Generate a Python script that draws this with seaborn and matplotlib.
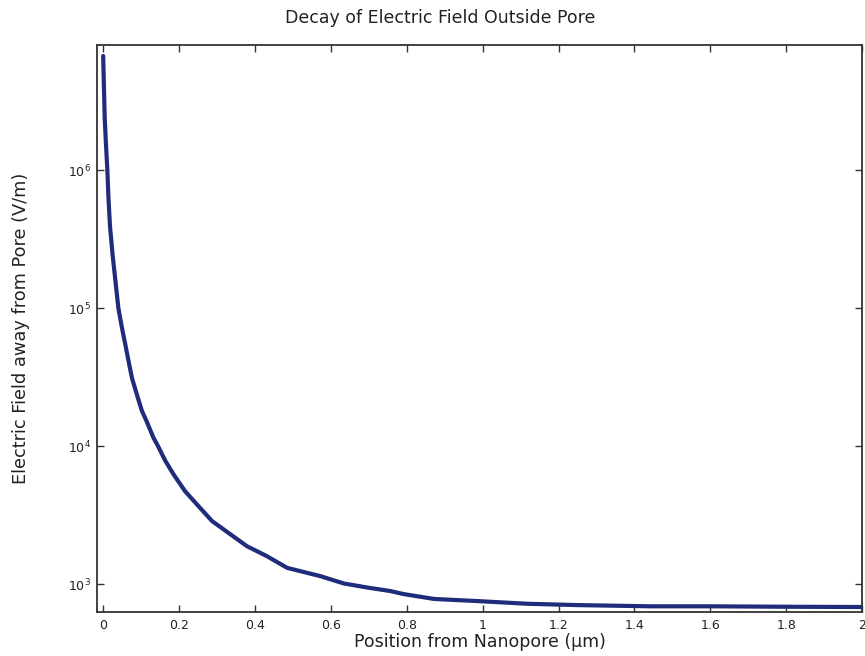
import matplotlib
matplotlib.use("Agg")
import matplotlib.pyplot as plt
import matplotlib.ticker as mticker
import seaborn as sns
import pandas as pd

# Field magnitude sampled along the axis leaving the pore
position_um = [0.000, 0.002, 0.004, 0.007, 0.011, 0.014, 0.018, 0.025, 0.032, 0.040,
               0.049, 0.058, 0.067, 0.076, 0.089, 0.102, 0.115, 0.133, 0.142,
               0.164, 0.186, 0.203, 0.216, 0.250, 0.287, 0.330, 0.379, 0.430,
               0.485, 0.530, 0.573, 0.634, 0.700, 0.757, 0.792, 0.872, 0.986,
               1.118, 1.250, 1.443, 1.600, 1.800, 1.997]
field_v_per_m = [6.7e6, 4.0e6, 2.4e6, 1.6e6, 1.0e6, 6.2e5, 3.9e5, 2.4e5, 1.6e5, 1.0e5,
                 7.3e4, 5.5e4, 4.1e4, 3.1e4, 2.35e4, 1.8e4, 1.5e4, 1.14e4, 1.03e4,
                 7.8e3, 6.2e3, 5.3e3, 4.7e3, 3.7e3, 2.86e3, 2.35e3, 1.88e3, 1.6e3,
                 1.31e3, 1.22e3, 1.14e3, 1.01e3, 940, 890, 846, 780, 753,
                 720, 704, 690, 690, 685, 682]

x_ticks = [0, 0.2, 0.4, 0.6, 0.8, 1.0, 1.2, 1.4, 1.6, 1.8, 2.0]
x_tick_labels = ["0", "0.2", "0.4", "0.6", "0.8", "1", "1.2", "1.4", "1.6", "1.8", "2"]
y_ticks = [1e3, 1e4, 1e5, 1e6]
y_tick_labels = [r"$10^3$", r"$10^4$", r"$10^5$", r"$10^6$"]

df = pd.DataFrame({"position": position_um, "field": field_v_per_m})

sns.set_style("ticks")
plt.rcParams["font.family"] = ["DejaVu Sans"]

fig = plt.figure(figsize=(8.65, 6.56), dpi=100)
ax = fig.add_axes([0.1127, 0.067, 0.884, 0.8644])

sns.lineplot(data=df, x="position", y="field", ax=ax, color="#1f2b7b",
             linewidth=3.0, estimator=None, sort=False)

ax.set_yscale("log")
ax.set_xlim(-0.015, 2.0)
ax.set_ylim(627, 8.05e6)

ax.set_xticks(x_ticks)
ax.set_xticklabels(x_tick_labels)
ax.set_yticks(y_ticks)
ax.set_yticklabels(y_tick_labels)
ax.yaxis.set_minor_locator(mticker.NullLocator())

ax.tick_params(axis="both", which="major", direction="in", length=5, width=1,
               top=True, right=True, labelsize=9, colors="#333333",
               labelcolor="#222222", pad=5)

for side in ["left", "right", "top", "bottom"]:
    ax.spines[side].set_visible(True)
    ax.spines[side].set_color("#333333")
    ax.spines[side].set_linewidth(1.3)

fig.text(0.509, 0.973, "Decay of Electric Field Outside Pore", fontsize=12.5,
         color="#222222", ha="center", va="center")
ax.set_xlabel("Position from Nanopore (µm)", fontsize=12.5, color="#222222", labelpad=1)
ax.set_ylabel("Electric Field away from Pore (V/m)", fontsize=12.8, color="#222222", labelpad=27)

fig.savefig("out.png", dpi=100)
